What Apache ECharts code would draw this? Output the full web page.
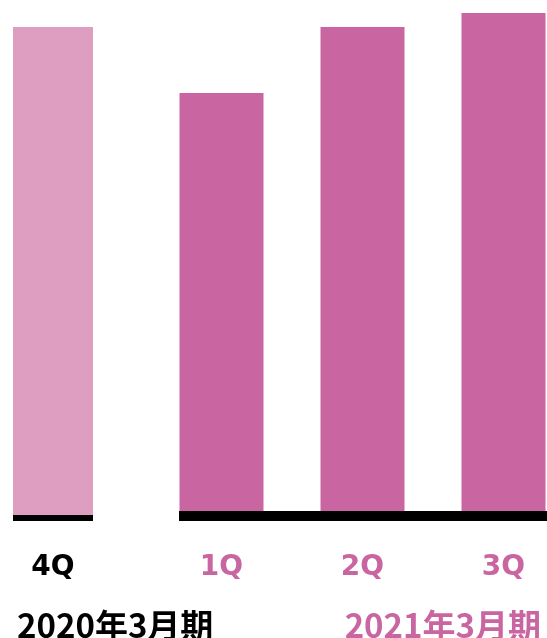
<!DOCTYPE html>
<html>
<head>
<meta charset="utf-8">
<script src="https://cdn.jsdelivr.net/npm/echarts@6/dist/echarts.min.js"></script>
<style>
  html, body { margin: 0; padding: 0; background: #fff; }
  #chart { width: 547px; height: 638px; }
</style>
</head>
<body>
<div id="chart"></div>
<script>
// Previous fiscal year (FY ending March 2020)
const prevCategories = ['4Q'];
const prevValues = [488];
const prevPeriod = '2020年3月期';

// Current fiscal year (FY ending March 2021)
const currCategories = ['1Q', '2Q', '3Q'];
const currValues = [418, 484, 498];
const currPeriod = '2021年3月期';

const PINK = '#C966A1';
const LIGHT_PINK = '#DD9EC1';
const CJK_FONT = '"Noto Sans CJK JP", "Noto Sans", sans-serif';
const LATIN_FONT = '"DejaVu Sans", "Noto Sans", sans-serif';

const chart = echarts.init(document.getElementById('chart'));

const labelStyle = (color, margin) => ({
  show: true,
  color: color,
  fontFamily: LATIN_FONT,
  fontWeight: 'bold',
  fontSize: 28,
  margin: margin
});

chart.setOption({
  animation: false,
  backgroundColor: '#ffffff',
  grid: [
    { left: 13, width: 80, top: 15, bottom: 123, outerBoundsMode: 'none' },   // 4Q bar
    { left: 151, width: 423, top: 11, bottom: 127, outerBoundsMode: 'none' }, // 1Q-3Q bars
    { left: 13, width: 80, top: 10, bottom: 120, outerBoundsMode: 'none' },   // baseline under 4Q
    { left: 179, right: 0, top: 10, bottom: 122, outerBoundsMode: 'none' }    // baseline under 1Q-3Q
  ],
  title: [
    {
      text: prevPeriod, left: 12, top: 604,
      textStyle: { fontFamily: CJK_FONT, fontWeight: 'bold', fontSize: 33, color: '#000' }
    },
    {
      text: currPeriod, right: 1, top: 604,
      textStyle: { fontFamily: CJK_FONT, fontWeight: 'bold', fontSize: 33, color: PINK }
    }
  ],
  xAxis: [
    {
      type: 'category', gridIndex: 0, data: prevCategories,
      axisLine: { show: false }, axisTick: { show: false },
      axisLabel: labelStyle('#000', 39)
    },
    {
      type: 'category', gridIndex: 1, data: currCategories,
      axisLine: { show: false }, axisTick: { show: false },
      axisLabel: labelStyle(PINK, 43)
    },
    {
      type: 'category', gridIndex: 2, data: [''],
      axisLine: { show: true, lineStyle: { color: '#000', width: 6, cap: 'butt' } },
      axisTick: { show: false }, axisLabel: { show: false }
    },
    {
      type: 'category', gridIndex: 3, data: [''],
      axisLine: { show: true, lineStyle: { color: '#000', width: 10, cap: 'butt' } },
      axisTick: { show: false }, axisLabel: { show: false }
    }
  ],
  yAxis: [0, 1, 2, 3].map(i => ({
    type: 'value', gridIndex: i, min: 0, max: 500, show: false,
    splitLine: { show: false }
  })),
  series: [
    {
      type: 'bar', xAxisIndex: 0, yAxisIndex: 0,
      data: prevValues, barWidth: 80,
      itemStyle: { color: LIGHT_PINK }
    },
    {
      type: 'bar', xAxisIndex: 1, yAxisIndex: 1,
      data: currValues, barWidth: 84,
      itemStyle: { color: PINK }
    }
  ]
});
</script>
</body>
</html>
